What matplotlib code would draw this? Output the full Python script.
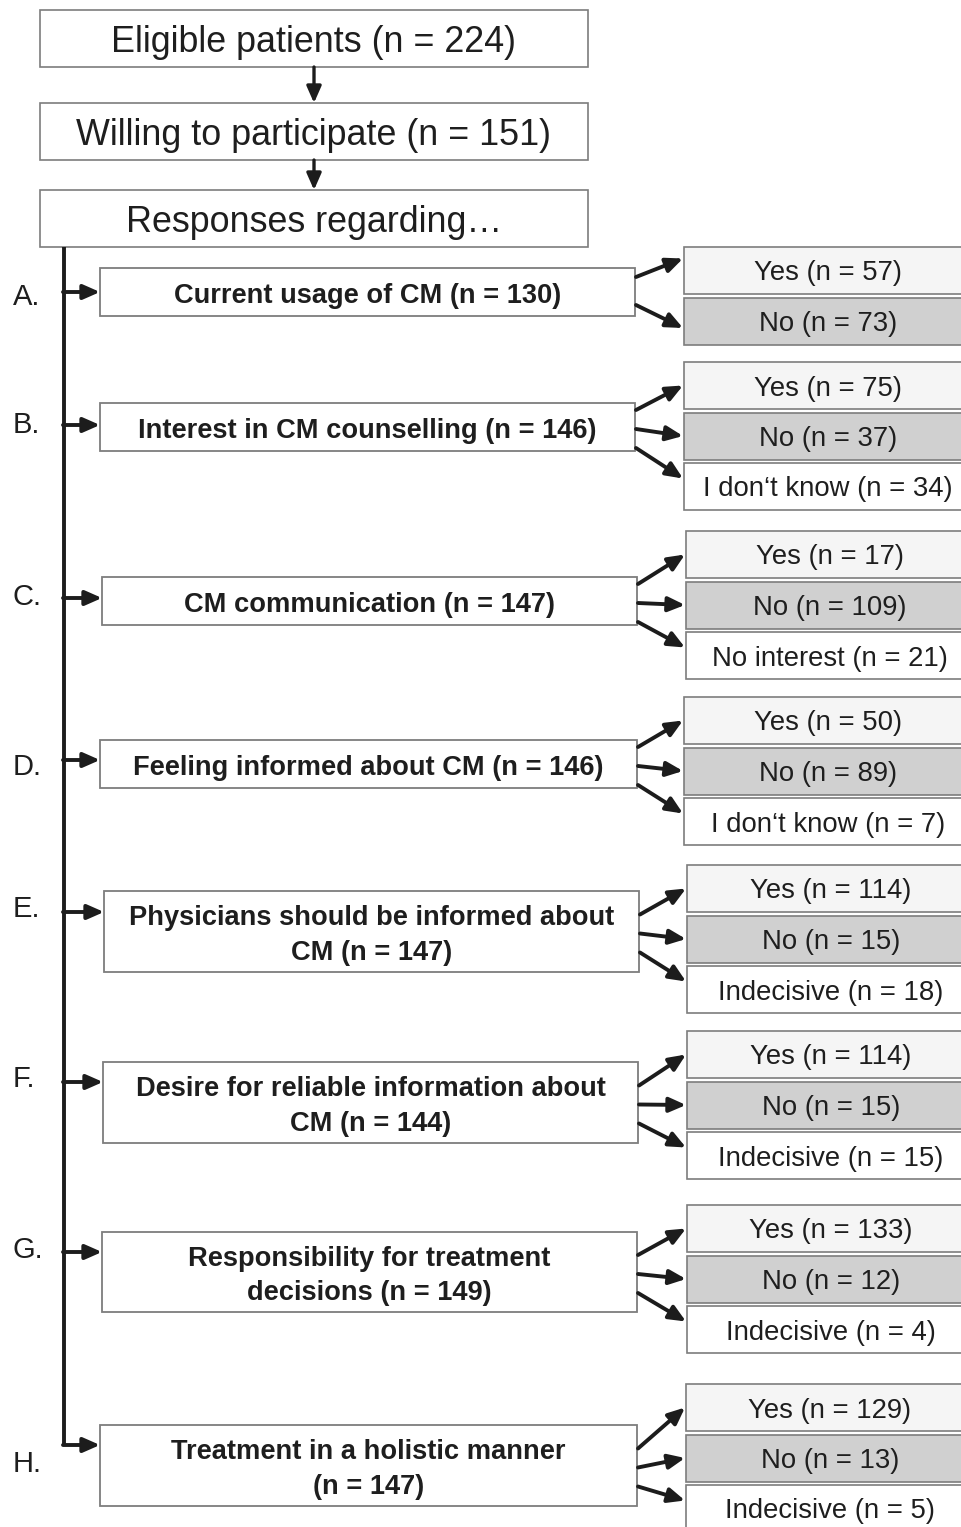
import matplotlib.pyplot as plt
from matplotlib.patches import Rectangle

plt.rcParams['font.family'] = ['Liberation Sans', 'DejaVu Sans']

# top of the flow chart
top_steps = ["Eligible patients (n = 224)", "Willing to participate (n = 151)",
             "Responses regarding\u2026"]

# question blocks
q_letters = ["A.", "B.", "C.", "D.", "E.", "F.", "G.", "H."]
q_texts = ["Current usage of CM (n = {})",
           "Interest in CM counselling (n = {})",
           "CM communication (n = {})",
           "Feeling informed about CM (n = {})",
           "Physicians should be informed about\nCM (n = {})",
           "Desire for reliable information about\nCM (n = {})",
           "Responsibility for treatment\ndecisions (n = {})",
           "Treatment in a holistic manner\n(n = {})"]
q_n = [130, 146, 147, 146, 147, 144, 149, 147]

answer_labels = [["Yes", "No"],
                 ["Yes", "No", "I don\u2018t know"],
                 ["Yes", "No", "No interest"],
                 ["Yes", "No", "I don\u2018t know"],
                 ["Yes", "No", "Indecisive"],
                 ["Yes", "No", "Indecisive"],
                 ["Yes", "No", "Indecisive"],
                 ["Yes", "No", "Indecisive"]]
answer_n = [[57, 73], [75, 37, 34], [17, 109, 21], [50, 89, 7],
            [114, 15, 18], [114, 15, 15], [133, 12, 4], [129, 13, 5]]

# layout (pixels, y downward)
top_y = [(10, 67), (103, 160), (190, 247)]
q_box = [(100, 635, 268, 316), (100, 635, 403, 451), (102, 637, 577, 625),
         (100, 637, 740, 788), (104, 639, 891, 972), (103, 638, 1062, 1143),
         (102, 637, 1232, 1312), (100, 637, 1425, 1506)]
branch_y = [292, 425, 598, 760, 912, 1082, 1252, 1445]
letter_y = [297, 425, 597, 767, 909, 1079, 1250, 1464]
ans_top = [247, 362, 531, 697, 865, 1031, 1205, 1384]
ans_x = [684, 684, 686, 684, 687, 687, 687, 686]
ans_step = 50.5
ans_h = 47
fills = ['#f5f5f5', '#d0d0d0', '#ffffff']
edge = '#7d7d7d'
arrow_col = '#1c1c1c'
text_col = '#1e1e1e'

fig = plt.figure(figsize=(9.62, 15.27), dpi=100)
ax = fig.add_axes([0, 0, 1, 1])
ax.set_xlim(0, 962)
ax.set_ylim(1527, 0)
ax.axis('off')


def arrow(x0, y0, x1, y1, lw=2.8):
    ax.annotate("", xy=(x1, y1), xytext=(x0, y0),
                arrowprops=dict(arrowstyle='-|>,head_length=0.5,head_width=0.22',
                                lw=lw, color=arrow_col, shrinkA=0, shrinkB=0,
                                mutation_scale=20))


# top boxes
for i, (label, (y0, y1)) in enumerate(zip(top_steps, top_y)):
    ax.add_patch(Rectangle((40, y0), 548, y1 - y0, fc='white', ec=edge, lw=1.2))
    ax.text(314, (y0 + y1) / 2 + 4, label, ha='center', va='center', fontsize=25.8,
            color=text_col)
    if i < len(top_y) - 1:
        arrow(314, y1, 314, top_y[i + 1][0], lw=2.4)

# main vertical line
ax.plot([64, 64], [247, branch_y[-1]], color=arrow_col, lw=2.8,
        solid_capstyle='butt')

for i in range(len(q_texts)):
    x0, x1, y0, y1 = q_box[i]
    qc = (y0 + y1) / 2
    ax.add_patch(Rectangle((x0, y0), x1 - x0, y1 - y0, fc='white', ec=edge, lw=1.3))
    ax.text((x0 + x1) / 2, qc + 4, q_texts[i].format(q_n[i]), ha='center',
            va='center', fontsize=19.6, fontweight='bold', color=text_col,
            linespacing=1.42)
    ax.text(13, letter_y[i], q_letters[i], ha='left', va='center', fontsize=21,
            color=text_col)
    arrow(63, branch_y[i], x0, branch_y[i])

    labels = answer_labels[i]
    centers = []
    for j, (lab, n) in enumerate(zip(labels, answer_n[i])):
        ty = ans_top[i] + j * ans_step
        ax.add_patch(Rectangle((ans_x[i], ty), 962 - ans_x[i] + 5, ans_h,
                               fc=fills[j], ec=edge, lw=1.2, clip_on=True))
        ax.text(ans_x[i] + 144, ty + ans_h / 2 + 3, f"{lab} (n = {n})",
                ha='center', va='center', fontsize=19.8, color=text_col)
        centers.append(ty + ans_h / 2)

    if len(labels) == 2:
        starts = [qc - 15, qc + 13]
        ends = [centers[0] - 12, centers[1] + 7]
    else:
        starts = [qc - 17, qc + 2, qc + 21]
        ends = [centers[0], centers[1], centers[2] - 8]
    for s, e in zip(starts, ends):
        arrow(x1 + 1, s, ans_x[i] - 1, e)

fig.savefig('out.png', dpi=100)
